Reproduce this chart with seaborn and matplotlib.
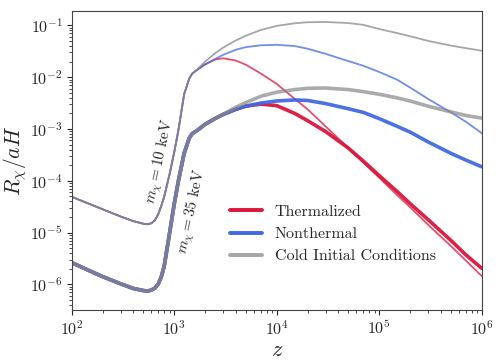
import numpy as np
import pandas as pd
import matplotlib
matplotlib.use("Agg")
import matplotlib.pyplot as plt
import seaborn as sns

# redshift grid: common early part, then where the models split
z_early = [100, 150, 200, 300, 400, 500, 550, 600, 650, 700, 750, 800, 900, 1000, 1100, 1250, 1400]
z_late = [1500, 1700, 2000, 2500, 3000, 4000, 5000, 7000, 1e4, 1.5e4, 2e4, 3e4, 5e4,
          7e4, 1e5, 1.5e5, 2e5, 3e5, 5e5, 7e5, 1e6]

# log10(R_chi / aH)
# m_chi = 10 keV (thin lines)
m10_early = [-4.31, -4.45, -4.55, -4.69, -4.78, -4.83, -4.84, -4.82, -4.76, -4.64, -4.48, -4.30,
             -3.88, -3.45, -3.02, -2.33, -2.03]
m10_thermal = [-1.93, -1.85, -1.75, -1.66, -1.635, -1.68, -1.76, -1.93, -2.13, -2.42, -2.62,
               -2.95, -3.37, -3.65, -3.94, -4.28, -4.51, -4.85, -5.26, -5.54, -5.84]
m10_nonthermal = [-1.93, -1.85, -1.76, -1.65, -1.57, -1.47, -1.42, -1.385, -1.375, -1.40, -1.45,
                  -1.55, -1.69, -1.78, -1.90, -2.05, -2.20, -2.42, -2.68, -2.86, -3.08]
m10_cold = [-1.93, -1.84, -1.70, -1.54, -1.43, -1.29, -1.20, -1.09, -1.01, -0.96, -0.94,
            -0.935, -0.955, -0.99, -1.07, -1.15, -1.21, -1.30, -1.39, -1.44, -1.49]

# m_chi = 35 keV (thick lines)
m35_early = [-5.58, -5.74, -5.85, -5.99, -6.08, -6.12, -6.13, -6.11, -6.07, -5.99, -5.85, -5.64,
             -5.02, -4.45, -4.00, -3.47, -3.18]
m35_thermal = [-3.09, -3.02, -2.91, -2.80, -2.72, -2.62, -2.56, -2.52, -2.55, -2.70, -2.84,
               -3.05, -3.37, -3.62, -3.90, -4.21, -4.44, -4.75, -5.15, -5.43, -5.69]
m35_nonthermal = [-3.09, -3.02, -2.91, -2.80, -2.72, -2.62, -2.56, -2.50, -2.46, -2.44, -2.45,
                  -2.51, -2.61, -2.68, -2.80, -2.95, -3.06, -3.25, -3.47, -3.60, -3.73]
m35_cold = [-3.09, -3.02, -2.91, -2.80, -2.72, -2.58, -2.49, -2.37, -2.29, -2.24, -2.215,
            -2.21, -2.24, -2.28, -2.33, -2.40, -2.46, -2.56, -2.67, -2.74, -2.79]

labels = ["Thermalized", "Nonthermal", "Cold Initial Conditions"]
colors = {"Thermalized": "crimson", "Nonthermal": "royalblue", "Cold Initial Conditions": "#888888"}

sns.set_style("ticks")
plt.rcParams["font.family"] = "serif"
plt.rcParams["font.serif"] = ["cmr10", "DejaVu Serif"]
plt.rcParams["mathtext.fontset"] = "cm"
plt.rcParams["axes.formatter.use_mathtext"] = True
plt.rcParams["axes.unicode_minus"] = False

rows = []
for mass, early, branches in [("10", m10_early, [m10_thermal, m10_nonthermal, m10_cold]),
                              ("35", m35_early, [m35_thermal, m35_nonthermal, m35_cold])]:
    for lab, late in zip(labels, branches):
        for z, v in zip(z_early + z_late, early + late):
            rows.append({"z": z, "R": 10.0 ** v, "model": lab, "mass": mass})
df = pd.DataFrame(rows)

fig, ax = plt.subplots(figsize=(4.99, 3.64), dpi=100)
fig.subplots_adjust(left=0.1437, right=0.9653, top=0.97, bottom=0.1484)

# line width and alpha per mass; gray has its own alpha
styles = {"10": (1.3, 0.75, 0.75), "35": (2.6, 0.95, 0.7)}
for mass in ["10", "35"]:
    lw, a_col, a_gray = styles[mass]
    for lab in labels:
        sub = df[(df["mass"] == mass) & (df["model"] == lab)]
        alpha = a_gray if lab == "Cold Initial Conditions" else a_col
        sns.lineplot(data=sub, x="z", y="R", color=colors[lab], lw=lw, alpha=alpha,
                     ax=ax, sort=False, estimator=None)

ax.set_xscale("log")
ax.set_yscale("log")
ax.set_xlim(1e2, 1e6)
ax.set_ylim(3.2e-7, 0.19)
ax.set_xlabel(r"$z$", fontsize=16, labelpad=2)
ax.set_ylabel(r"$R_\chi/aH$", fontsize=15.5, labelpad=1)
ax.tick_params(which="major", labelsize=11.5, length=3.5, width=0.8, pad=3)
ax.tick_params(which="minor", length=2, width=0.6)
for s in ax.spines.values():
    s.set_color("#444444")

ax.text(730, 2.3e-4, r"$m_\chi = 10$ keV", rotation=78, ha="center", va="center", fontsize=11)
ax.text(1520, 2.5e-5, r"$m_\chi = 35$ keV", rotation=78, ha="center", va="center", fontsize=11)

handles = [plt.Line2D([], [], color=c, lw=2.8, alpha=a)
           for c, a in [("crimson", 1.0), ("royalblue", 1.0), ("#888888", 0.75)]]
ax.legend(handles, labels, loc="center left", bbox_to_anchor=(0.37, 0.254), frameon=False,
          fontsize=11.5, borderaxespad=0, handlelength=2.0)

plt.savefig("out.png", dpi=100)
plt.close()
